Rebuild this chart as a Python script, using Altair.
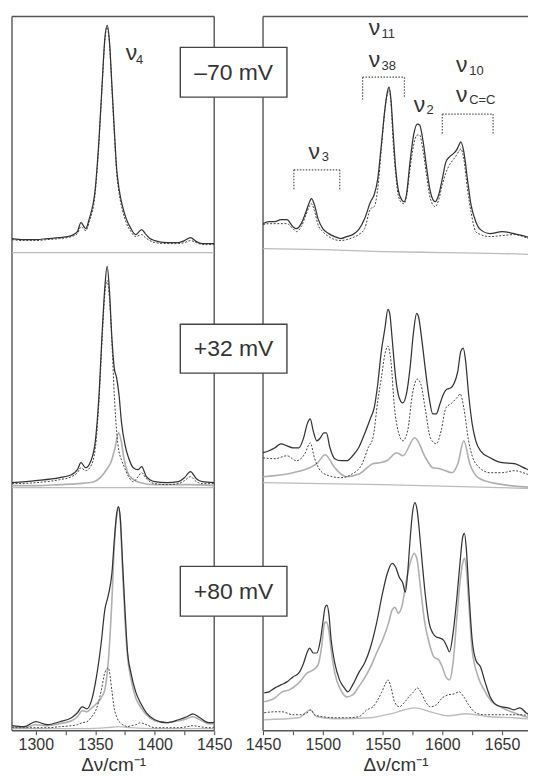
import altair as alt
import pandas as pd

# ---------------- text ----------------
POTENTIALS = ["–70 mV", "+32 mV", "+80 mV"]
AXIS_TITLE = "Δν/cm⁻¹"
FONT = "Liberation Sans"

# ---------------- data (intensities in arbitrary units, per row) ----------------
LEFT_OFFSETS = [480, 244, 0]
RIGHT_OFFSETS = [481, 248, 9]

# ---- Left panel: nu4 region ----
LN1 = [1280, 1290, 1300, 1310, 1320, 1330, 1335, 1338, 1342, 1345, 1350, 1353, 1356, 1358, 1360,
       1362, 1364, 1366, 1368, 1370, 1373, 1376, 1380, 1384, 1389, 1392, 1396, 1400, 1410, 1420,
       1425, 1430, 1435, 1440, 1450]
L1_MEAS = [14, 13, 13, 14, 15, 17, 21, 30, 24, 34, 64, 111, 174, 214, 228,
           211, 168, 124, 84, 64, 46, 34, 24, 18, 23, 19, 14, 12, 10, 10,
           12, 15, 11, 9, 9]
L1_FIT = [13, 12, 12, 13, 14, 16, 19, 26, 22, 31, 60, 108, 172, 212, 226,
          209, 165, 120, 80, 60, 42, 30, 21, 16, 18, 15, 12, 10, 9, 9,
          10, 12, 10, 8, 8]
L1_BASE_NU = [1280, 1450]
L1_BASE = [0, 0]

LN2 = [1280, 1300, 1320, 1330, 1335, 1338, 1342, 1346, 1350, 1353, 1356, 1358, 1360, 1362, 1364,
       1366, 1368, 1370, 1372, 1375, 1378, 1382, 1386, 1389, 1393, 1400, 1410, 1420, 1425, 1430,
       1435, 1440, 1450]
L2_MEAS = [5, 7, 10, 13, 18, 25, 20, 26, 46, 90, 160, 200, 222, 196, 150,
           120, 110, 93, 66, 43, 30, 20, 18, 21, 11, 6, 5, 6, 10, 16,
           9, 6, 5]
L2_FIT = [4, 5, 8, 11, 15, 20, 17, 21, 39, 84, 154, 194, 208, 189, 146,
          93, 56, 36, 28, 19, 11, 6, 11, 15, 9, 4, 3, 4, 7, 11,
          6, 4, 4]
L2_COMP_NU = [1280, 1300, 1320, 1336, 1349, 1355, 1360, 1363, 1366.5, 1369.5, 1372, 1374, 1377,
              1381, 1388, 1400, 1420, 1430, 1450]
L2_COMP = [2, 2, 3, 4, 6, 11, 19, 25, 39, 55, 46, 30, 16, 9, 5, 3, 3, 3, 2]
L2_BASE_NU = [1280, 1450]
L2_BASE = [0, 0]

LN3 = [1280, 1290, 1300, 1310, 1320, 1330, 1335, 1339, 1343, 1347, 1351, 1355, 1358, 1361, 1364,
       1366, 1368, 1369.5, 1371, 1373, 1375, 1377, 1380, 1384, 1388, 1393, 1400, 1410, 1420, 1427,
       1432, 1438, 1445, 1450]
L3_MEAS = [5, 4, 9, 6, 9, 13, 18, 24, 22, 31, 54, 88, 121, 136, 158,
           191, 218, 225, 214, 168, 121, 81, 58, 39, 28, 18, 11, 8, 11, 14,
           17, 13, 8, 8]
L3_COMP = [4, 3, 6, 5, 7, 10, 14, 20, 19, 23, 27, 33, 41, 70, 131,
           185, 215, 224, 212, 160, 112, 76, 52, 33, 24, 16, 10, 8, 10, 12,
           14, 11, 7, 7]
L3_FIT = [3, 3, 3, 3, 4, 5, 6, 8, 9, 14, 22, 40, 58, 63, 40,
          22, 14, 10, 8, 6, 5, 4, 5, 6, 8, 6, 3, 3, 3, 4,
          5, 4, 3, 3]
L3_SMALL_NU = [1280, 1340, 1360, 1370, 1380, 1400, 1450]
L3_SMALL = [2, 2, 3, 4, 3, 2, 2]

# ---- Right panel: 1450-1680 region ----
RN1 = [1450, 1455, 1460, 1465, 1470, 1475, 1478, 1482, 1486, 1489, 1490.5, 1493, 1496, 1500, 1505,
       1510, 1515, 1520, 1525, 1530, 1535, 1540, 1543, 1546, 1549, 1552, 1554, 1555.5, 1557, 1559,
       1561, 1563, 1566, 1568, 1570, 1573, 1576, 1579, 1581, 1584, 1587, 1590, 1594, 1597, 1600,
       1603, 1606, 1609, 1612, 1614, 1615.5, 1618, 1621, 1624, 1628, 1632, 1640, 1650, 1660, 1670,
       1678]
R1_MEAS = [28, 30, 30, 32, 32, 25, 23, 28, 40, 50, 53, 47, 33, 23, 18,
           15, 13, 15, 17, 22, 33, 50, 57, 73, 107, 143, 160, 165, 153, 117,
           83, 63, 52, 50, 57, 90, 117, 128, 127, 110, 83, 60, 50, 57, 73,
           90, 95, 98, 102, 107, 110, 100, 73, 47, 30, 22, 18, 20, 18, 15,
           13]
R1_FIT = [27, 28, 28, 28, 28, 23, 20, 25, 37, 46, 48, 41, 27, 20, 15,
          12, 11, 12, 14, 17, 23, 43, 45, 63, 103, 143, 158, 162, 150, 107,
          78, 57, 49, 48, 55, 83, 107, 117, 117, 100, 75, 53, 45, 52, 67,
          79, 87, 92, 97, 101, 103, 93, 63, 40, 20, 17, 15, 16, 17, 14,
          10]
R1_BASE_NU = [1450, 1500, 1550, 1600, 1650, 1678]
R1_BASE = [3, 2, 0, -1, -2, -3]

RN2 = [1450, 1455, 1460, 1465, 1470, 1475, 1480, 1484, 1487, 1489.5, 1492, 1495, 1498, 1501, 1503,
       1506, 1510, 1515, 1520, 1525, 1530, 1535, 1540, 1543, 1546, 1549, 1552, 1554.5, 1556, 1558,
       1561, 1564, 1567, 1570, 1573, 1576, 1578.5, 1580, 1583, 1586, 1589, 1592, 1595, 1598, 1601,
       1604, 1607, 1610, 1613, 1615.5, 1617.5, 1619.5, 1622, 1625, 1628, 1632, 1640, 1650, 1660, 1670,
       1678]
R2_MEAS = [31, 33, 36, 40, 38, 36, 36, 46, 60, 65, 53, 43, 46, 51, 51,
           36, 25, 23, 23, 28, 36, 50, 66, 76, 100, 133, 156, 175, 171, 146,
           106, 86, 81, 90, 116, 153, 171, 168, 143, 113, 86, 70, 70, 80, 90,
           95, 96, 101, 113, 133, 136, 123, 90, 60, 43, 33, 26, 21, 20, 15,
           11]
R2_FIT_NU = [1450, 1460, 1470, 1478, 1485, 1489.5, 1493, 1498, 1505, 1515, 1525, 1533, 1538, 1542,
             1546, 1549, 1552, 1554.5, 1557, 1560, 1563, 1567, 1571, 1575, 1579, 1582, 1586, 1590,
             1595, 1599, 1603, 1608, 1612, 1615, 1618, 1622, 1628, 1640, 1650, 1660, 1670, 1678]
R2_FIT = [26, 25, 28, 23, 30, 41, 26, 13, 8, 6, 10, 20, 36, 46,
          83, 106, 130, 138, 123, 76, 53, 43, 53, 90, 105, 100, 73, 46,
          40, 53, 76, 81, 86, 90, 76, 43, 20, 11, 11, 13, 10, 6]
R2_COMP_NU = [1450, 1475, 1489, 1495, 1502, 1510, 1519.6, 1530.8, 1542, 1547.5, 1553.6, 1561.9,
              1567, 1577, 1586, 1592, 1598, 1608, 1613, 1618, 1623, 1630, 1641, 1678]
R2_COMP = [7, 11, 16, 20, 29, 16, 7, 10, 20, 21, 23, 31, 28, 46, 26, 16, 15, 11, 20, 43, 20, 6, 1, -4]
R2_BASE_NU = [1450, 1550, 1678]
R2_BASE = [1, -1, -5]

RN3 = [1451, 1455, 1460, 1465, 1470, 1475, 1480, 1484, 1487, 1489, 1492, 1495, 1498, 1500, 1502,
       1503.5, 1505, 1507, 1510, 1514, 1518, 1521, 1525, 1530, 1535, 1540, 1545, 1550, 1554, 1558,
       1561, 1564, 1567, 1569, 1571, 1573, 1575, 1577, 1579, 1581, 1583, 1586, 1589, 1592, 1595,
       1598, 1601, 1604, 1606, 1609, 1612, 1615, 1617, 1618.5, 1620, 1622, 1625, 1628, 1632, 1636,
       1640, 1645, 1650, 1655, 1660, 1665, 1670, 1678]
R3_MEAS = [29, 30, 34, 37, 40, 45, 49, 59, 70, 74, 69, 69, 82, 99, 115,
           117, 109, 82, 59, 42, 34, 30, 37, 49, 59, 75, 99, 129, 149, 159,
           155, 145, 139, 130, 149, 182, 209, 220, 212, 189, 162, 125, 99, 89, 85,
           84, 82, 75, 70, 89, 122, 162, 185, 189, 175, 135, 82, 62, 55, 39,
           25, 17, 15, 14, 12, 14, 9, 5]
R3_COMP_NU = [1451, 1460, 1466, 1472, 1480, 1487, 1492, 1496, 1499, 1501.5, 1503, 1505, 1507, 1510,
              1515, 1520, 1525, 1530, 1535, 1540, 1545, 1550, 1555, 1558, 1560.5, 1563, 1566, 1570,
              1573, 1576.5, 1579, 1582, 1585, 1589, 1593, 1597, 1600, 1603, 1606, 1609, 1612, 1615,
              1617, 1618.5, 1620, 1622, 1625, 1630, 1635, 1640, 1650, 1660, 1670, 1678]
R3_COMP = [20, 24, 30, 32, 39, 49, 52, 57, 75, 99, 100, 92, 72, 49,
           32, 25, 27, 35, 44, 55, 69, 82, 99, 112, 115, 109, 115, 142,
           159, 169, 162, 132, 102, 79, 65, 62, 55, 45, 42, 59, 102, 142,
           159, 164, 155, 122, 72, 45, 32, 22, 14, 9, 5, 4]
R3_FIT_NU = [1451, 1460, 1466, 1475, 1482, 1488, 1490, 1493, 1500, 1510, 1520, 1530, 1537, 1542,
             1546, 1549, 1552, 1554.5, 1557, 1560, 1564, 1568, 1572, 1576, 1579, 1582, 1586, 1590,
             1595, 1600, 1605, 1610, 1614, 1618, 1622, 1628, 1635, 1650, 1665, 1678]
R3_FIT = [9, 10, 10, 7, 7, 10, 12, 7, 5, 4, 4, 5, 12, 15,
          22, 29, 37, 42, 35, 20, 15, 19, 25, 30, 34, 30, 20, 15,
          17, 24, 27, 28, 30, 25, 17, 9, 7, 7, 7, 5]
R3_SMALL_NU = [1451, 1480, 1489.5, 1495, 1510, 1540, 1560, 1577, 1590, 1605, 1620, 1640, 1660, 1678]
R3_SMALL = [2, 4, 12, 5, 3, 4, 9, 14, 10, 6, 8, 5, 4, 2]

# ---- band labels: subscript, nu, y, subscript nu, subscript y ----
LEFT_LABELS = [("4", 1380.4, 673, 1384.2, 669)]
RIGHT_LABELS = [
    ("11", 1543.3, 698, 1549.2, 695),
    ("38", 1543.3, 666, 1549.2, 663),
    ("2", 1580.8, 621, 1586.7, 619),
    ("10", 1616.2, 661, 1622.5, 658),
    ("C=C", 1616.2, 631, 1622.5, 629),
    ("3", 1492.9, 574, 1499.2, 572),
]
# brackets: nu_left, nu_right, top, bottom-left, bottom-right
BRACKETS = [
    (1533.3, 1568.3, 656, 633, 636),
    (1600.0, 1642.5, 619, 598, 598),
    (1475.8, 1514.2, 563, 543, 543),
]
# potential boxes (in the right panel's coordinates, they sit over the gap)
BOX_NU = (1380.8, 1470.0)
BOX_Y = [(636, 686), (359, 408), (115, 165)]

# ---------------- build tables ----------------
rows = []


def add(panel, row, kind, nus, vals, offsets):
    for n, v in zip(nus, vals):
        rows.append({"panel": panel, "curve": f"{panel}{row}{kind}", "kind": kind,
                     "nu": n, "y": v + offsets[row]})


add("L", 0, "meas", LN1, L1_MEAS, LEFT_OFFSETS)
add("L", 0, "fit", LN1, L1_FIT, LEFT_OFFSETS)
add("L", 0, "base", L1_BASE_NU, L1_BASE, LEFT_OFFSETS)
add("L", 1, "meas", LN2, L2_MEAS, LEFT_OFFSETS)
add("L", 1, "fit", LN2, L2_FIT, LEFT_OFFSETS)
add("L", 1, "comp", L2_COMP_NU, L2_COMP, LEFT_OFFSETS)
add("L", 1, "base", L2_BASE_NU, L2_BASE, LEFT_OFFSETS)
add("L", 2, "meas", LN3, L3_MEAS, LEFT_OFFSETS)
add("L", 2, "comp", LN3, L3_COMP, LEFT_OFFSETS)
add("L", 2, "fit", LN3, L3_FIT, LEFT_OFFSETS)
add("L", 2, "base", L3_SMALL_NU, L3_SMALL, LEFT_OFFSETS)

add("R", 0, "meas", RN1, R1_MEAS, RIGHT_OFFSETS)
add("R", 0, "fit", RN1, R1_FIT, RIGHT_OFFSETS)
add("R", 0, "base", R1_BASE_NU, R1_BASE, RIGHT_OFFSETS)
add("R", 1, "meas", RN2, R2_MEAS, RIGHT_OFFSETS)
add("R", 1, "fit", R2_FIT_NU, R2_FIT, RIGHT_OFFSETS)
add("R", 1, "comp", R2_COMP_NU, R2_COMP, RIGHT_OFFSETS)
add("R", 1, "base", R2_BASE_NU, R2_BASE, RIGHT_OFFSETS)
add("R", 2, "meas", RN3, R3_MEAS, RIGHT_OFFSETS)
add("R", 2, "comp", R3_COMP_NU, R3_COMP, RIGHT_OFFSETS)
add("R", 2, "fit", R3_FIT_NU, R3_FIT, RIGHT_OFFSETS)
add("R", 2, "base", R3_SMALL_NU, R3_SMALL, RIGHT_OFFSETS)

df = pd.DataFrame(rows)

# ---------------- styling ----------------
H = 717
FRAME = "#555555"
TEXT = "#333333"
STYLES = {
    "base": dict(color="#bcbcbc", strokeWidth=1.3),
    "comp": dict(color="#b0b0b0", strokeWidth=1.6),
    "fit": dict(color="#444444", strokeWidth=1.0, strokeDash=[2, 1.6]),
    "meas": dict(color="#333333", strokeWidth=1.25),
}


def panel(panel_id, domain, width, ticks, labels, brackets=None, boxes=False, right_edge=True):
    xscale = alt.Scale(domain=domain, nice=False, zero=False)
    xaxis = alt.Axis(values=ticks, format="d",
                     labelExpr="datum.value % 50 == 0 ? datum.label : ''",
                     title=AXIS_TITLE)
    yscale = alt.Scale(domain=[0, H], nice=False, zero=False)

    def X(f):
        return alt.X(f"{f}:Q", scale=xscale, axis=xaxis)

    def Y(f):
        return alt.Y(f"{f}:Q", scale=yscale, axis=None)

    lo, hi = domain
    frame_rows = [
        {"nu": lo, "nu2": hi, "y": 0, "y2": 0},
        {"nu": lo, "nu2": hi, "y": H, "y2": H},
        {"nu": lo, "nu2": lo, "y": 0, "y2": H},
    ]
    if right_edge:
        frame_rows.append({"nu": hi, "nu2": hi, "y": 0, "y2": H})
    layers = [alt.Chart(pd.DataFrame(frame_rows)).mark_rule(color=FRAME, strokeWidth=1.4)
              .encode(x=X("nu"), x2="nu2:Q", y=Y("y"), y2="y2:Q")]
    sub = df[df.panel == panel_id]
    for kind, st in STYLES.items():
        layers.append(
            alt.Chart(sub[sub.kind == kind]).mark_line(clip=True, interpolate="monotone", **st)
            .encode(x=X("nu"), y=Y("y"), detail="curve:N")
        )
    ldf = pd.DataFrame([{"nu": a, "y": b, "t": "ν", "snu": c, "sy": d, "s": s}
                        for s, a, b, c, d in labels])
    layers.append(alt.Chart(ldf).mark_text(font=FONT, fontSize=23, color=TEXT, align="center",
                                           baseline="alphabetic")
                  .encode(x=X("nu"), y=Y("y"), text="t:N"))
    layers.append(alt.Chart(ldf).mark_text(font=FONT, fontSize=13, color=TEXT, align="left",
                                           baseline="alphabetic")
                  .encode(x=X("snu"), y=Y("sy"), text="s:N"))
    if brackets:
        segs = []
        for a, b, top, bl, br in brackets:
            segs.append({"nu": a, "nu2": b, "y": top, "y2": top})
            segs.append({"nu": a, "nu2": a, "y": top, "y2": bl})
            segs.append({"nu": b, "nu2": b, "y": top, "y2": br})
        layers.append(alt.Chart(pd.DataFrame(segs)).mark_rule(
            color="#555555", strokeWidth=1.2, strokeDash=[1.5, 1.5])
            .encode(x=X("nu"), x2="nu2:Q", y=Y("y"), y2="y2:Q"))
    if boxes:
        bdf = pd.DataFrame([{"nu": BOX_NU[0], "nu2": BOX_NU[1], "y": y0, "y2": y1,
                             "cnu": (BOX_NU[0] + BOX_NU[1]) / 2, "cy": (y0 + y1) / 2 - 0.5,
                             "label": lab}
                            for lab, (y0, y1) in zip(POTENTIALS, BOX_Y)])
        layers.append(alt.Chart(bdf).mark_rect(fill="white", stroke="#444444", strokeWidth=1.4)
                      .encode(x=X("nu"), x2="nu2:Q", y=Y("y"), y2="y2:Q"))
        layers.append(alt.Chart(bdf).mark_text(font=FONT, fontSize=23, color=TEXT, align="center",
                                               baseline="middle")
                      .encode(x=X("cnu"), y=Y("cy"), text="label:N"))
    return alt.layer(*layers).properties(width=width, height=H)


left = panel("L", [1280, 1450], 203, [1300, 1325, 1350, 1375, 1400, 1425, 1450], LEFT_LABELS)
# right panel runs off the page edge in the original, so no right border
right = panel("R", [1450, 1671.7], 266,
              [1450, 1475, 1500, 1525, 1550, 1575, 1600, 1625, 1650],
              RIGHT_LABELS, brackets=BRACKETS, boxes=True, right_edge=False)

chart = alt.hconcat(left, right, spacing=49, bounds="flush").properties(
    padding={"left": 3, "top": 6, "right": 0, "bottom": 0}
).configure_view(stroke=None).configure_axis(
    domain=False, grid=False, tickColor="#444444", tickSize=4, tickWidth=1,
    labelFont=FONT, labelFontSize=16, labelColor=TEXT, labelPadding=2,
    labelFlush=False, labelOverlap=False, labelBound=False,
    titleFont=FONT, titleFontSize=19, titleFontWeight="normal", titleColor=TEXT, titlePadding=3,
)

chart.save("out.html", embed_options={"renderer": "svg", "actions": False})
